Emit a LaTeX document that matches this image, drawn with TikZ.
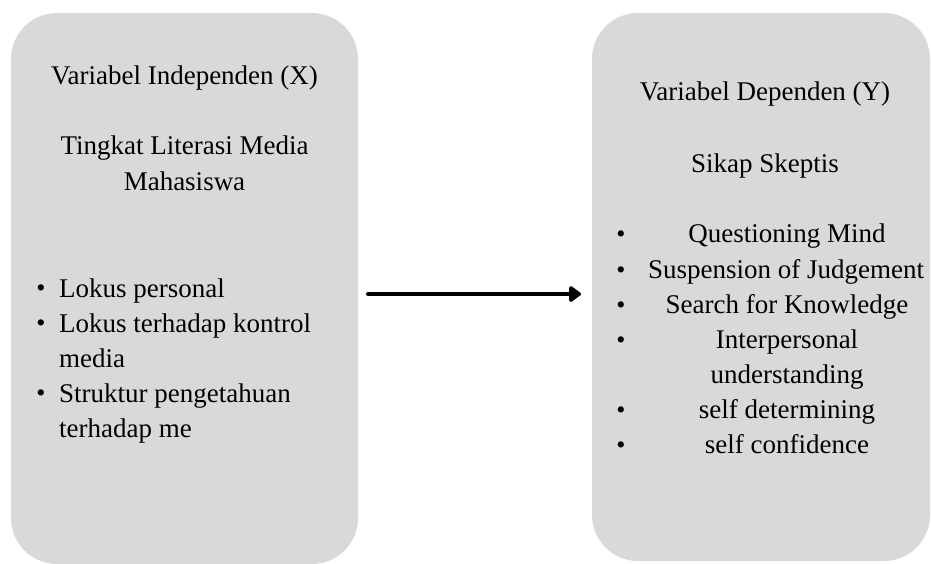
\documentclass[tikz,border=0pt]{standalone}
\usepackage{fontspec}
\setmainfont{Liberation Serif}
\usetikzlibrary{arrows.meta}
\definecolor{boxgray}{HTML}{D9D9D9}
\tikzset{
  varbox/.style={fill=boxgray, draw=none, rounded corners=46pt, inner sep=0pt},
  txt/.style={inner sep=0pt, anchor=base, font=\fontsize{27}{33}\selectfont},
  txtw/.style={txt, anchor=base west},
  bul/.style={inner sep=0pt, anchor=center, font=\fontsize{26}{26}\selectfont},
  conn/.style={line width=4pt, line cap=round, -{Triangle[length=13pt,width=18pt,round]}}
}
\begin{document}
\begin{tikzpicture}[x=1pt,y=-1pt]
\useasboundingbox (0,0) rectangle (931,564);
% boxes
\node[varbox, minimum width=347pt, minimum height=551pt] (boxL) at (184.5,288.5) {};
\node[varbox, minimum width=338pt, minimum height=548pt] (boxR) at (761,287) {};
% left texts
\node[txt] (lt1) at (184.5,85) {Variabel Independen (X)};
\node[txt] (lt2) at (184.5,155) {Tingkat Literasi Media};
\node[txt] (lt3) at (184.5,190) {Mahasiswa};
\node[txtw] (li1) at (59,297) {Lokus personal};
\node[txtw] (li2) at (59,332) {Lokus terhadap kontrol};
\node[txtw] (li3) at (59,367) {media};
\node[txtw] (li4) at (59,402) {Struktur pengetahuan};
\node[txtw] (li5) at (59,437) {terhadap me};
\node[bul] (lb1) at (41,291) {•};
\node[bul] (lb2) at (41,326) {•};
\node[bul] (lb4) at (41,396) {•};
% right texts
\node[txt] (rt1) at (765,101) {Variabel Dependen (Y)};
\node[txt] (rt2) at (765,173) {Sikap Skeptis};
\node[txt] (ri1) at (787,242) {Questioning Mind};
\node[txt] (ri2) at (786,278) {Suspension of Judgement};
\node[txt] (ri3) at (787,313) {Search for Knowledge};
\node[txt] (ri4) at (787,348) {Interpersonal};
\node[txt] (ri5) at (787,383) {understanding};
\node[txt] (ri6) at (787,418) {self determining};
\node[txt] (ri7) at (787,453) {self confidence};
\node[bul] (rb1) at (621,237) {•};
\node[bul] (rb2) at (621,273) {•};
\node[bul] (rb3) at (621,308) {•};
\node[bul] (rb4) at (621,343) {•};
\node[bul] (rb6) at (621,413) {•};
\node[bul] (rb7) at (621,448) {•};
% arrow
\coordinate (a1) at (368,294);
\coordinate (a2) at (581,294);
\draw[conn] (a1) -- (a2);
\end{tikzpicture}
\end{document}
